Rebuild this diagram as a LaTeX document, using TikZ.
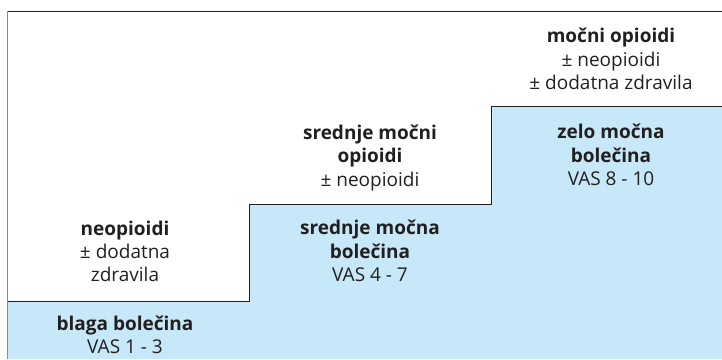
\documentclass[tikz,border=0pt]{standalone}
\usepackage{fontspec}
\setmainfont{Open Sans}
\definecolor{stepblue}{HTML}{C6E8F8}
\definecolor{txt}{HTML}{231F20}
\definecolor{framegray}{HTML}{8A8A8A}
\begin{document}
\begin{tikzpicture}[x=1pt,y=-1pt,
  lbl/.style={align=center,text=txt,inner sep=0pt,anchor=base,
    font=\fontsize{19}{23.3}\selectfont}]
\useasboundingbox (0,0) rectangle (722,359);
% staircase fill
\fill[stepblue] (8,301) -- (249.5,301) -- (249.5,204) -- (491.5,204)
  -- (491.5,106.5) -- (722,106.5) -- (722,359) -- (8,359) -- cycle;
\draw[txt,line width=0.9pt] (8,301) -- (249.5,301) -- (249.5,204) -- (491.5,204)
  -- (491.5,106.5) -- (722,106.5);
% frame
\draw[txt,line width=1pt] (7,11) -- (722,11);
\draw[framegray,line width=1.6pt] (7.5,11) -- (7.5,359);
% step 1
\node[lbl] (t1) at (125,281.7) {\textbf{neopioidi}\\± dodatna\\zdravila};
\node[lbl] (b1) at (125,353.3) {\textbf{blaga bolečina}\\VAS 1 - 3};
% step 2
\node[lbl] (t2) at (370,186) {\textbf{srednje močni}\\\textbf{opioidi}\\± neopioidi};
\node[lbl] (b2) at (370,281.5) {\textbf{srednje močna}\\\textbf{bolečina}\\VAS 4 - 7};
% step 3
\node[lbl] (t3) at (611,89.5) {\textbf{močni opioidi}\\± neopioidi\\± dodatna zdravila};
\node[lbl] (b3) at (611,185.5) {\textbf{zelo močna}\\\textbf{bolečina}\\VAS 8 - 10};
\end{tikzpicture}
\end{document}
